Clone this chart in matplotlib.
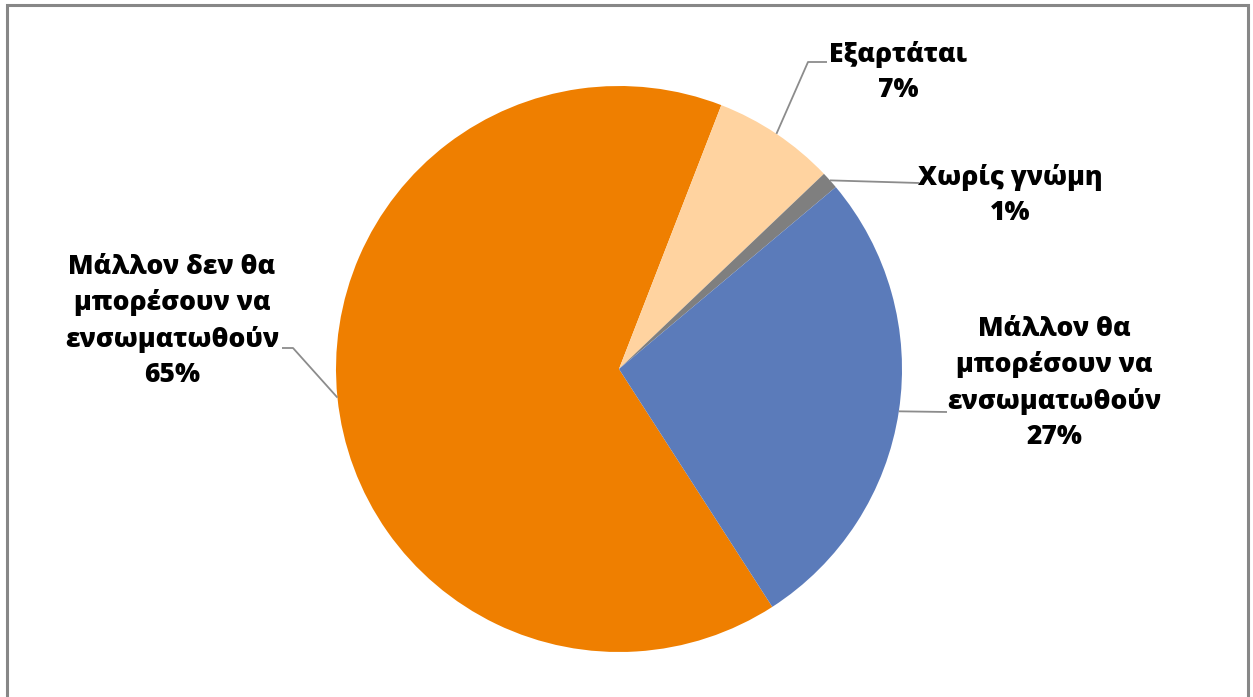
import numpy as np
import matplotlib
matplotlib.use("Agg")
import matplotlib.pyplot as plt
from matplotlib.patches import Rectangle

W, H = 1253, 697

# slice data, clockwise from the lower-right edge of the big orange slice
labels = ["Μάλλον δεν θα\nμπορέσουν να\nενσωματωθούν",
          "Εξαρτάται",
          "Χωρίς γνώμη",
          "Μάλλον θα\nμπορέσουν να\nενσωματωθούν"]
values = [65, 7, 1, 27]
colors = ["#EF7F00", "#FFD3A0", "#7F7F7F", "#5B7BBA"]

# label placement in pixels (text centre) and leader line points near the text
label_pos = [(172, 321), (898, 72), (1010, 195), (1054, 383)]
lead_end = [(282, 348), (827, 62), (919, 183), (947, 412)]
lead_elbow = [(293, 348), (808, 62), (919, 183), (947, 412)]

plt.rcParams['font.family'] = ['Open Sans', 'DejaVu Sans']

fig = plt.figure(figsize=(W / 100, H / 100), dpi=100)
ax = fig.add_axes([0, 0, 1, 1])

cx, cy, r = 619, 369, 283
wedges, _ = ax.pie(values, colors=colors, startangle=90 - 147.2, counterclock=False,
                   center=(cx, H - cy), radius=r, frame=False,
                   wedgeprops=dict(linewidth=0))
ax.set_xlim(0, W)
ax.set_ylim(0, H)
ax.set_aspect('equal')
ax.axis('off')

for i, w in enumerate(wedges):
    # leader line starts on the rim at the middle of the slice
    mid = np.deg2rad((w.theta1 + w.theta2) / 2)
    px = cx + r * np.cos(mid)
    py = (H - cy) + r * np.sin(mid)
    ex, ey = lead_elbow[i]
    sx, sy = lead_end[i]
    ax.plot([px, ex, sx], [py, H - ey, H - sy], color="#8C8C8C", lw=1.3,
            solid_capstyle='butt', zorder=1)
    tx, ty = label_pos[i]
    ax.text(tx, H - ty, f"{labels[i]}\n{values[i]}%", ha='center', va='center',
            fontsize=19, fontweight='heavy', color='black', linespacing=1.45)

# outer chart border
fig.patches.append(Rectangle((7 / W, -0.01), (1248 - 7) / W, (H - 5) / H + 0.01,
                             transform=fig.transFigure, fill=False,
                             edgecolor="#878787", lw=2.2))

fig.savefig("out.png", dpi=100)
